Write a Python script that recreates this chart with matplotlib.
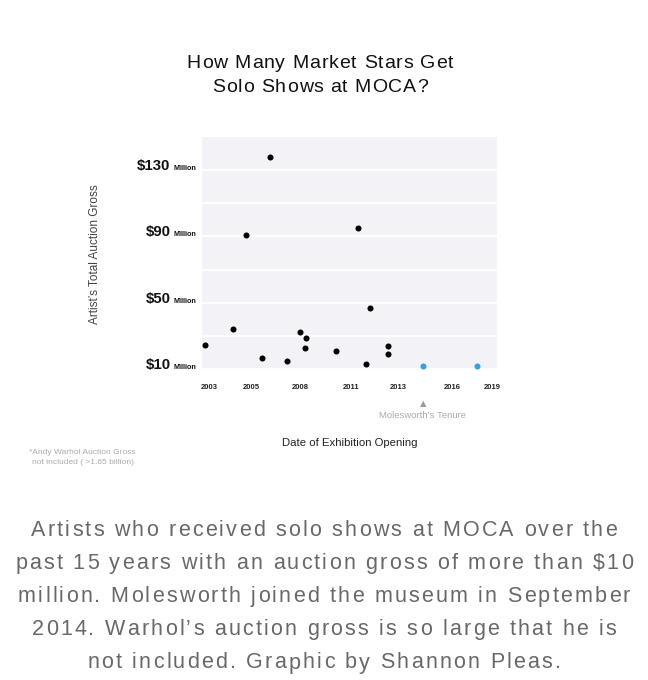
import matplotlib
matplotlib.use("Agg")
import matplotlib.pyplot as plt
import matplotlib.transforms as mtransforms
from matplotlib import font_manager as fm
from matplotlib.ft2font import FT2Font

# exhibition opening (year) vs artist's auction gross ($ million)
years = [2002.77, 2004.34, 2006.0, 2007.43, 2008.14, 2008.5, 2008.43, 2010.2,
         2012.1, 2011.9, 2013.1, 2013.1, 2006.47, 2005.1, 2011.4]
gross = [24.7, 33.9, 16.5, 14.6, 32.3, 28.7, 22.8, 21.0,
         46.8, 12.8, 23.9, 18.9, 137.7, 90.8, 94.9]
# shows during Molesworth's tenure
tenure_years = [2015.08, 2018.13]
tenure_gross = [11.6, 11.6]

ytick_vals = [130, 90, 50, 10]
grid_vals = [10, 30, 50, 70, 90, 110, 130]
xtick_pos = [2003, 2005.37, 2008.14, 2011.02, 2013.68, 2016.73, 2019]
xtick_labels = ["2003", "2005", "2008", "2011", "2013", "2016", "2019"]
tenure_start = 2015.08

title = ["How Many Market Stars Get", "Solo Shows at MOCA?"]
caption = ["Artists who received solo shows at MOCA over the",
           "past 15 years with an auction gross of more than $10",
           "million. Molesworth joined the museum in September",
           "2014. Warhol\u2019s auction gross is so large that he is",
           "not included. Graphic by Shannon Pleas."]

SANS = ["Liberation Sans", "DejaVu Sans"]
DPI = 100
W, H = 648, 680


def tracked_text(fig, xc, ybase, s, size, track, color, family="Liberation Sans"):
    """Centered text with extra letter spacing (pixels), drawn glyph by glyph."""
    font = FT2Font(fm.findfont(fm.FontProperties(family=family)))
    font.set_size(size, DPI)
    adv = [font.load_char(ord(c)).linearHoriAdvance / 65536 for c in s]
    total = sum(adv) + track * (len(s) - 1)
    x = xc - total / 2
    for c, a in zip(s, adv):
        if c != " ":
            fig.text(x / W, 1 - ybase / H, c, ha="left", va="baseline",
                     fontsize=size, family=family, color=color)
        x += a + track


fig = plt.figure(figsize=(W / DPI, H / DPI), dpi=DPI)
ax = fig.add_axes([201.7 / W, 1 - 370.5 / H, 295 / W, 233.5 / H])
ax.set_facecolor("#f2f2f7")
for s in ax.spines.values():
    s.set_visible(False)
ax.set_xlim(2002.59, 2019.26)
ax.set_ylim(9.1, 150)

for g in grid_vals:
    ax.axhline(g, color="white", lw=1.3, zorder=1)

ax.scatter(years, gross, s=19, color="black", zorder=3, linewidths=0)
ax.scatter(tenure_years, tenure_gross, s=19, color="#3aa0dc", zorder=3, linewidths=0)

ax.set_yticks([])
ax.set_xticks(xtick_pos)
ax.set_xticklabels(xtick_labels, fontsize=5.5, fontweight="bold", family=SANS, color="#222")
ax.tick_params(axis="x", length=0, pad=10)

# y labels: "$130" big + "Million" small
trans = mtransforms.blended_transform_factory(ax.transAxes, ax.transData)
for v in ytick_vals:
    ax.annotate(f"${v}", xy=(0, v), xycoords=trans, xytext=(-31, 0),
                textcoords="offset pixels", ha="right", va="baseline",
                fontsize=10.8, fontweight="bold", family=SANS, color="#111")
    ax.annotate("Million", xy=(0, v), xycoords=trans, xytext=(-28.5, 0),
                textcoords="offset pixels", ha="left", va="baseline",
                fontsize=5.2, fontweight="bold", family=SANS, color="#111")

# tenure marker below the axis
ax.annotate("\u25B2", xy=(tenure_start, 0), xycoords=("data", "axes fraction"),
            xytext=(0, -33), textcoords="offset pixels", ha="center", va="center",
            fontsize=6, color="#999", family=["DejaVu Sans"])
ax.annotate("Molesworth\u2019s Tenure", xy=(tenure_start, 0), xycoords=("data", "axes fraction"),
            xytext=(0, -45), textcoords="offset pixels", ha="center", va="center",
            fontsize=6.8, color="#aaa", family=SANS)

tracked_text(fig, 320, 68.3, title[0], 14, 0.9, "#111")
tracked_text(fig, 320, 92.0, title[1], 14, 0.9, "#111")

fig.text(95 / W, 1 - 254 / H, "Artist\u2019s Total Auction Gross", rotation=90,
         ha="center", va="center", fontsize=8.5, family=SANS, color="#444")
fig.text(350 / W, 1 - 443 / H, "Date of Exhibition Opening", ha="center", va="center",
         fontsize=8.2, family=SANS, color="#222")

fig.text(82 / W, 1 - 453 / H, "*Andy Warhol Auction Gross", ha="center", va="center",
         fontsize=6, family=SANS, color="#aaa")
fig.text(83 / W, 1 - 463 / H, "not included ( >1.65 billion)", ha="center", va="center",
         fontsize=6, family=SANS, color="#aaa")

for i, line in enumerate(caption):
    tracked_text(fig, 324, 535.7 + 33.2 * i, line, 15.5, 2.2, "#686868")

fig.savefig("out.png", dpi=DPI)
